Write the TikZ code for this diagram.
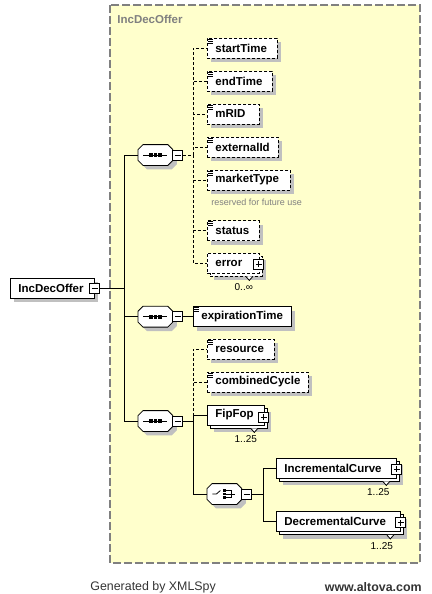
\documentclass[tikz,border=0pt]{standalone}
\usepackage{fontspec}
\setmainfont{Liberation Sans}
\usetikzlibrary{shadows}

\definecolor{schemabg}{RGB}{255,255,204}
\definecolor{schemaframe}{RGB}{128,128,128}
\definecolor{shadowgray}{RGB}{192,192,192}

\newcommand\elemfont{\fontsize{11.5}{13}\selectfont\bfseries}
% octagon round a compositor node
\newcommand\octpath[1]{([xshift=5pt]#1.north west) -- ([xshift=-5pt]#1.north east) -- ([yshift=-5pt]#1.north east)
  -- ([yshift=5pt]#1.south east) -- ([xshift=-5pt]#1.south east) -- ([xshift=5pt]#1.south west)
  -- ([yshift=5pt]#1.south west) -- ([yshift=-5pt]#1.north west) -- cycle}

\tikzset{
  elem/.style={draw, fill=white, anchor=west, align=left, minimum height=20pt,
    inner xsep=8pt, inner ysep=0pt, font=\elemfont},
  opt/.style={dash pattern=on 3pt off 2pt},
  shd/.style={drop shadow={shadow xshift=4pt, shadow yshift=-4pt, opacity=1, fill=shadowgray}},
  multi/.style={drop shadow={shadow xshift=7pt, shadow yshift=-7pt, opacity=1, fill=shadowgray},
    copy shadow={shadow xshift=3pt, shadow yshift=-3pt, draw=black, fill=white}},
  simple/.style={path picture={
    \foreach \d in {1,3,5}
      \draw[solid] ([shift={(1pt,-\d pt)}]path picture bounding box.north west) -- ++(5pt,0pt);}},
  pmbox/.style={draw, solid, fill=white, minimum size=10pt, inner sep=0pt},
  minus/.style={pmbox, path picture={
    \draw ([xshift=-3pt]path picture bounding box.center) -- ([xshift=3pt]path picture bounding box.center);}},
  plus/.style={pmbox, path picture={
    \draw ([xshift=-3pt]path picture bounding box.center) -- ([xshift=3pt]path picture bounding box.center);
    \draw ([yshift=-3pt]path picture bounding box.center) -- ([yshift=3pt]path picture bounding box.center);}},
  compositor/.style={minimum width=34pt, minimum height=20pt, inner sep=0pt, anchor=west,
    append after command={\pgfextra{
      \fill[shadowgray, transform canvas={shift={(4pt,-4pt)}}] \octpath{\tikzlastnode};
      \draw[fill=white] \octpath{\tikzlastnode};}}},
  seqsym/.style={append after command={\pgfextra{
    \draw ([xshift=-12pt]\tikzlastnode.center) -- ([xshift=12pt]\tikzlastnode.center);
    \foreach \s in {-4.5,0,4.5}
      \fill ([xshift=\s pt]\tikzlastnode.center) +(-1.8pt,-1.8pt) rectangle +(1.8pt,1.8pt);}}},
  choicesym/.style={append after command={\pgfextra{
    \draw ([xshift=-12pt]\tikzlastnode.center) -- ([xshift=-8pt]\tikzlastnode.center)
      -- ([shift={(-4pt,3.5pt)}]\tikzlastnode.center);
    \foreach \s in {-3.5,0,3.5}
      \fill ([yshift=\s pt]\tikzlastnode.center) +(-1.3pt,-1.3pt) rectangle +(1.3pt,1.3pt);
    \draw ([shift={(1pt,3.5pt)}]\tikzlastnode.center) -- ([shift={(7pt,3.5pt)}]\tikzlastnode.center)
      -- ([shift={(7pt,-3.5pt)}]\tikzlastnode.center) -- ([shift={(1pt,-3.5pt)}]\tikzlastnode.center);
    \draw ([xshift=1pt]\tikzlastnode.center) -- ([xshift=11pt]\tikzlastnode.center);}}},
  card/.style={inner sep=0pt, font=\fontsize{10}{12}\selectfont},
}

\begin{document}
\begin{tikzpicture}[x=1pt, y=-1pt, line width=0.8pt]
\useasboundingbox (0,0) rectangle (431,594);
%\draw[step=10,gray,very thin] (0,0) grid (431,594);

% schema frame
\draw[schemaframe, line width=1.5pt, dash pattern=on 8pt off 3pt, fill=schemabg] (110,5) rectangle (420,563);
\node[anchor=west, inner sep=0pt, text=schemaframe, font=\elemfont] (title) at (117,19) {IncDecOffer};

% root
\node[elem, shd, text width=68pt] (root) at (10,288) {IncDecOffer};
\node[minus] (rootm) at (root.east) {};

% compositors
\node[compositor, seqsym] (seq1) at (138,155) {};
\node[minus] (seq1m) at ([xshift=5pt]seq1.east) {};
\node[compositor, seqsym] (seq2) at (138,316.7) {};
\node[minus] (seq2m) at ([xshift=5pt]seq2.east) {};
\node[compositor, seqsym] (seq3) at (138,421) {};
\node[minus] (seq3m) at ([xshift=5pt]seq3.east) {};

\draw (rootm.east) -- ++(24,0) coordinate (trunk);
\draw (trunk) |- (seq1.west);
\draw (trunk) |- (seq3.west);
\draw (seq2.west) -- (seq2.west -| trunk);

% first sequence
\node[elem, opt, simple, shd, text width=54pt] (startTime) at (207,48) {startTime};
\node[elem, opt, simple, shd, text width=49pt] (endTime) at (207,81) {endTime};
\node[elem, opt, simple, shd, text width=36pt] (mRID) at (207,114) {mRID};
\node[elem, opt, simple, shd, text width=55pt] (externalId) at (207,147) {externalId};
\node[elem, opt, simple, shd, text width=67pt] (marketType) at (207,180) {marketType};
\node[anchor=west, inner sep=0pt, text=schemaframe, font=\fontsize{9}{11}\selectfont] (note) at (211,202) {reserved for future use};
\node[elem, opt, simple, shd, text width=36pt] (status) at (207,230.7) {status};
\node[elem, opt, multi, text width=36pt] (error) at (207,263) {error};
\node[plus] (errorp) at ([shift={(-1pt,-1pt)}]error.east) {};
\draw[fill=white] ([shift={(-14pt,-3pt)}]error.south east) -- ++(3.5pt,-4pt) -- ++(3.5pt,4pt);
\node[card] (errorn) at ([shift={(-16pt,-14pt)}]error.south east) {0..∞};

\draw[opt] (seq1m.east) -- ++(10,0) coordinate (bus1);
\foreach \n in {startTime,endTime,mRID,externalId,marketType,status,error}
  \draw[opt] (bus1) |- (\n.west);

% second sequence
\node[elem, simple, shd, text width=82pt] (expirationTime) at (193,316.7) {expirationTime};
\draw (seq2m.east) -- (expirationTime.west);

% third sequence
\node[elem, opt, simple, shd, text width=51pt] (resource) at (207,349) {resource};
\node[elem, opt, simple, shd, text width=85pt] (combinedCycle) at (207,382) {combinedCycle};
\node[elem, multi, text width=41pt] (FipFop) at (207,415) {FipFop};
\node[plus] (FipFopp) at ([shift={(-1pt,-2pt)}]FipFop.east) {};
\draw[fill=white] ([shift={(-14pt,-3pt)}]FipFop.south east) -- ++(3.5pt,-4pt) -- ++(3.5pt,4pt);
\node[card] (FipFopn) at ([shift={(-19pt,-14pt)}]FipFop.south east) {1..25};

\node[compositor, choicesym] (choice) at (207,494) {};
\node[minus] (choicem) at ([xshift=5pt]choice.east) {};

\draw (seq3m.east) -- ++(10,0) coordinate (bus3);
\draw[opt] (bus3) |- (resource.west);
\draw[opt] (bus3) |- (combinedCycle.west);
\draw (bus3) |- (FipFop.west);
\draw (bus3) |- (choice.west);

% choice
\node[elem, multi, text width=104pt] (IncrementalCurve) at (276,468) {IncrementalCurve};
\node[plus] (IncrementalCurvep) at ([yshift=-1pt]IncrementalCurve.east) {};
\draw[fill=white] ([shift={(-14pt,-3pt)}]IncrementalCurve.south east) -- ++(3.5pt,-4pt) -- ++(3.5pt,4pt);
\node[card] (IncrementalCurven) at ([shift={(-18.5pt,-14pt)}]IncrementalCurve.south east) {1..25};

\node[elem, multi, text width=108pt] (DecrementalCurve) at (276,521.5) {DecrementalCurve};
\node[plus] (DecrementalCurvep) at ([yshift=-1pt]DecrementalCurve.east) {};
\draw[fill=white] ([shift={(-14pt,-3pt)}]DecrementalCurve.south east) -- ++(3.5pt,-4pt) -- ++(3.5pt,4pt);
\node[card] (DecrementalCurven) at ([shift={(-19pt,-14pt)}]DecrementalCurve.south east) {1..25};

\draw (choicem.east) -- ++(11,0) coordinate (bus4);
\draw (bus4) |- (IncrementalCurve.west);
\draw (bus4) |- (DecrementalCurve.west);

% footer
\node[anchor=west, inner sep=0pt, text=black!80, font=\fontsize{12.4}{14}\selectfont] (gen) at (90,587) {Generated by XMLSpy};
\node[anchor=east, inner sep=0pt, text=black!80, font=\fontsize{12.4}{14}\selectfont\bfseries] (site) at (422,587) {www.altova.com};

\end{tikzpicture}
\end{document}
